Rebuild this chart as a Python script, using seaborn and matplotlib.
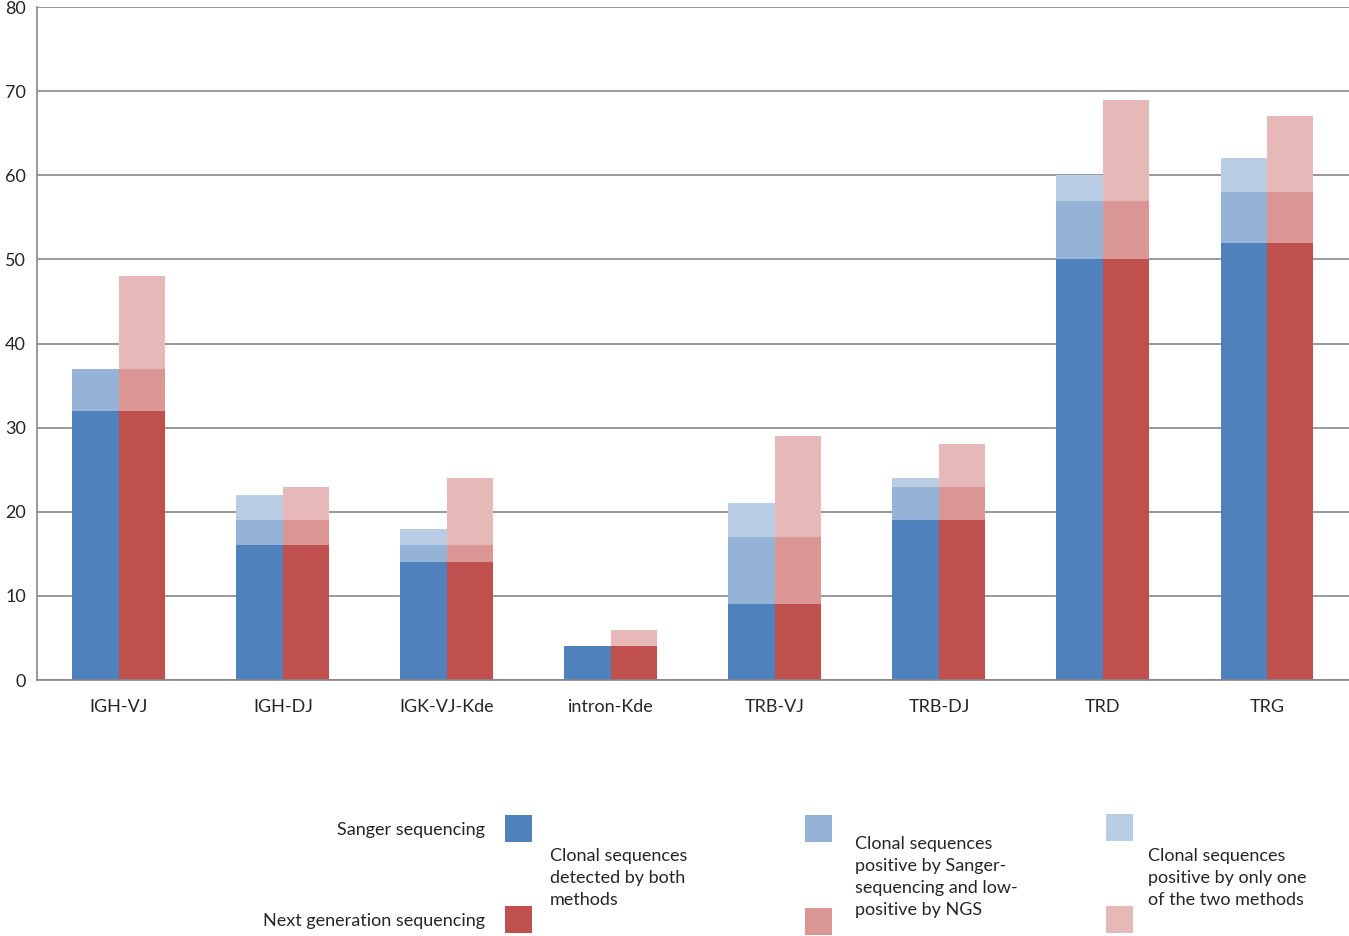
import seaborn as sns
import matplotlib.pyplot as plt
import pandas as pd
from matplotlib.patches import Rectangle

# values (cumulative heights)
categories = ['IGH-VJ', 'IGH-DJ', 'IGK-VJ-Kde', 'intron-Kde', 'TRB-VJ', 'TRB-DJ', 'TRD', 'TRG']
methods = ['Sanger sequencing', 'Next generation sequencing']
both_sanger = [32, 16, 14, 4, 9, 19, 50, 52]
both_ngs = [32, 16, 14, 4, 9, 19, 50, 52]
low_sanger = [37, 19, 16, 4, 17, 23, 57, 58]
low_ngs = [37, 19, 16, 4, 17, 23, 57, 58]
total_sanger = [37, 22, 18, 4, 21, 24, 60, 62]
total_ngs = [48, 23, 24, 6, 29, 28, 69, 67]
y_ticks = [0, 10, 20, 30, 40, 50, 60, 70, 80]

dark = ['#4F81BD', '#C0504D']
medium = ['#95B3D7', '#D99694']
light = ['#B9CDE5', '#E6B9B8']

legend_labels = ['Clonal sequences\ndetected by both\nmethods',
                 'Clonal sequences\npositive by Sanger-\nsequencing and low-\npositive by NGS',
                 'Clonal sequences\npositive by only one\nof the two methods']


def layer_df(sanger, ngs):
    return pd.DataFrame({
        'category': categories * 2,
        'method': [methods[0]] * len(categories) + [methods[1]] * len(categories),
        'value': sanger + ngs,
    })


sns.set_style('white')
plt.rcParams['font.family'] = ['Lato', 'DejaVu Sans']

fig = plt.figure(figsize=(13.49, 9.36), dpi=100)
ax = fig.add_axes([0.0274, 0.2735, 0.9726, 0.719])

# draw from the tallest layer down so the darker parts sit on top
for (s, n), pal in [((total_sanger, total_ngs), light),
                    ((low_sanger, low_ngs), medium),
                    ((both_sanger, both_ngs), dark)]:
    sns.barplot(data=layer_df(s, n), x='category', y='value', hue='method',
                order=categories, hue_order=methods, palette=pal,
                width=0.567, linewidth=0, saturation=1, legend=False, ax=ax)

ax.set_xlim(-0.5, len(categories) - 0.5)
ax.set_ylim(0, 80)
ax.set_yticks(y_ticks)
ax.set_xlabel('')
ax.set_ylabel('')
ax.yaxis.grid(True, color='#878787', linewidth=1.2)
ax.set_axisbelow(True)

for side in ['top', 'right']:
    ax.spines[side].set_visible(False)
for side in ['left', 'bottom']:
    ax.spines[side].set_color('#878787')
    ax.spines[side].set_linewidth(1.2)

ax.set_xticks([i - 0.5 for i in range(len(categories) + 1)], minor=True)
ax.tick_params(axis='x', which='minor', length=7, width=1.2, color='#878787', direction='out')
ax.tick_params(axis='x', which='major', length=0, pad=14, labelsize=13)
ax.tick_params(axis='y', length=0, pad=8, labelsize=13)

# custom legend below the chart
W, H = 1349, 936


def swatch(x, y, color):
    fig.patches.append(Rectangle((x / W, 1 - (y + 27) / H), 27 / W, 27 / H,
                                 facecolor=color, edgecolor='none',
                                 transform=fig.transFigure, figure=fig))


fig.text(485 / W, 1 - 830 / H, methods[0], ha='right', va='center', fontsize=13)
fig.text(485 / W, 1 - 921 / H, methods[1], ha='right', va='center', fontsize=13)
swatch(505, 815, dark[0])
swatch(505, 906, dark[1])
swatch(805, 815, medium[0])
swatch(805, 908, medium[1])
swatch(1106, 814, light[0])
swatch(1106, 906, light[1])
fig.text(550 / W, 1 - 878 / H, legend_labels[0], ha='left', va='center', fontsize=13, linespacing=1.45)
fig.text(855 / W, 1 - 877 / H, legend_labels[1], ha='left', va='center', fontsize=13, linespacing=1.45)
fig.text(1148 / W, 1 - 878 / H, legend_labels[2], ha='left', va='center', fontsize=13, linespacing=1.45)

fig.savefig('out.png', dpi=100)
plt.close(fig)
